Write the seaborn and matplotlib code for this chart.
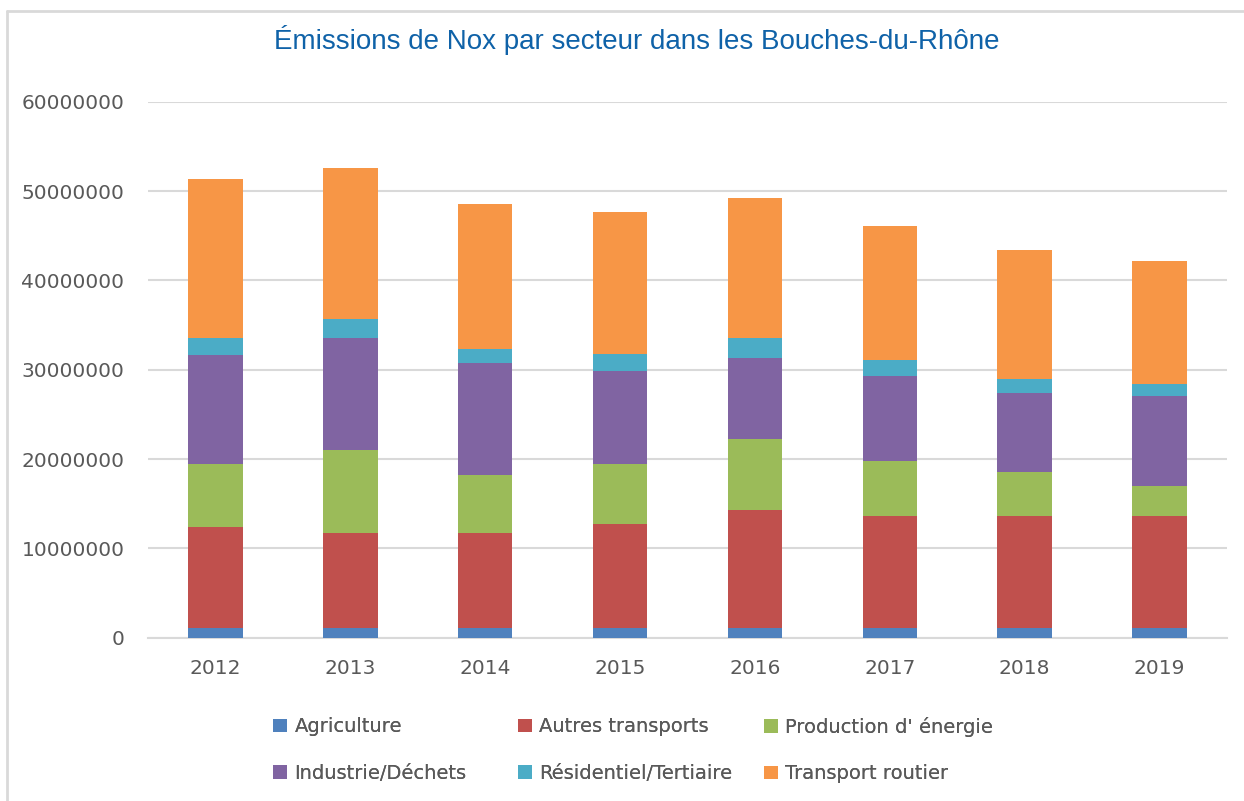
import matplotlib
matplotlib.use('Agg')
import matplotlib.pyplot as plt
import numpy as np
import pandas as pd
import seaborn as sns
from matplotlib.patches import Patch
from matplotlib.lines import Line2D

# Data
years = ['2012', '2013', '2014', '2015', '2016', '2017', '2018', '2019']
agriculture = [1050000, 1050000, 1050000, 1050000, 1050000, 1050000, 1050000, 1050000]
autres_transports = [11340000, 10710000, 10710000, 11670000, 13200000, 12570000, 12570000, 12570000]
production_energie = [7070000, 9270000, 6480000, 6740000, 7960000, 6130000, 4910000, 3380000]
industrie_dechets = [12240000, 12570000, 12530000, 10420000, 9150000, 9490000, 8860000, 10090000]
residentiel_tertiaire = [1900000, 2110000, 1560000, 1860000, 2240000, 1860000, 1560000, 1260000]
transport_routier = [17800000, 16860000, 16220000, 15920000, 15580000, 15040000, 14400000, 13800000]

series_names = ['Agriculture', 'Autres transports', "Production d' énergie",
                'Industrie/Déchets', 'Résidentiel/Tertiaire', 'Transport routier']
series_values = [agriculture, autres_transports, production_energie,
                 industrie_dechets, residentiel_tertiaire, transport_routier]
colors = ['#4F81BD', '#C0504D', '#9BBB59', '#8064A2', '#4BACC6', '#F79646']

df = pd.DataFrame(dict(zip(series_names, series_values)), index=years)
cum = df.cumsum(axis=1)

sns.set_style('white')
plt.rcParams['font.family'] = ['DejaVu Sans']

fig = plt.figure(figsize=(12.44, 8.01), dpi=100)
ax = fig.add_axes([148 / 1244, 1 - 637.7 / 801, (1227 - 148) / 1244, (637.7 - 101.7) / 801])

# stacked bars: draw cumulative totals from the top layer down
for name, col in reversed(list(zip(series_names, colors))):
    d = pd.DataFrame({'year': years, 'value': cum[name].values})
    sns.barplot(data=d, x='year', y='value', color=col, width=0.405,
                saturation=1, linewidth=0, ax=ax, zorder=3)

ax.set_ylim(0, 60000000)
ax.set_yticks(np.arange(0, 60000001, 10000000))
ax.set_yticklabels([str(int(v)) for v in np.arange(0, 60000001, 10000000)])
ax.yaxis.grid(True, color='#D9D9D9', linewidth=1.5, zorder=0)
ax.set_axisbelow(True)
for s in ['top', 'right', 'left']:
    ax.spines[s].set_visible(False)
ax.spines['bottom'].set_color('#D9D9D9')
ax.spines['bottom'].set_linewidth(1.5)
ax.tick_params(axis='both', length=0, colors='#595959', labelsize=14.5)
ax.tick_params(axis='y', pad=17)
ax.tick_params(axis='x', pad=15)
ax.set_xlabel('')
ax.set_ylabel('')
ax.set_xlim(-0.5, 7.5)

fig.text(0.512, 1 - 40 / 801, 'Émissions de Nox par secteur dans les Bouches-du-Rhône',
         ha='center', va='center', fontsize=20, color='#0F62A8',
         family=['Liberation Sans', 'DejaVu Sans'])

# legend: three fixed-width columns, two rows
col_left = [273, 518, 764]
for k, x0 in enumerate(col_left):
    idx = [k, k + 3]
    leg = fig.legend([Patch(facecolor=colors[i], edgecolor='none') for i in idx],
                     [series_names[i] for i in idx],
                     loc='center left', bbox_to_anchor=(x0 / 1244, 1 - 750 / 801),
                     frameon=False, fontsize=14, labelcolor='#595959', handlelength=0.7,
                     handleheight=0.7, handletextpad=0.4, labelspacing=1.4,
                     borderpad=0, borderaxespad=0)
    fig.add_artist(leg)

# light frame around the chart area
fig.add_artist(Line2D([7 / 1244, 7 / 1244], [0, 1 - 11 / 801], transform=fig.transFigure,
                      color='#D9D9D9', linewidth=2))
fig.add_artist(Line2D([7 / 1244, 1], [1 - 11 / 801, 1 - 11 / 801], transform=fig.transFigure,
                      color='#D9D9D9', linewidth=2))

fig.savefig('out.png', dpi=100)
